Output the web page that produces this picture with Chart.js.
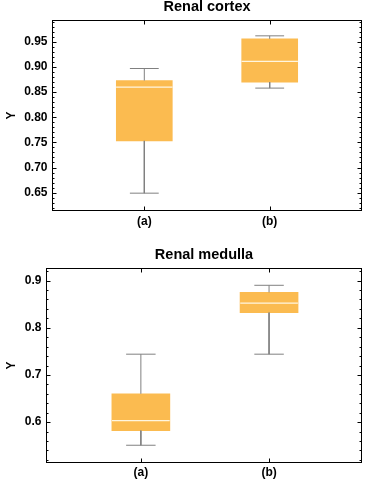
<!DOCTYPE html>
<html><head><meta charset="utf-8">
<script src="https://cdn.jsdelivr.net/npm/chart.js@4.4.1/dist/chart.umd.min.js"></script>
<style>
html,body{margin:0;padding:0;background:#fff;}
canvas{display:block;}
</style></head><body>
<canvas id="c1" width="369" height="240"></canvas>
<canvas id="c2" width="369" height="242"></canvas>
<script>
const categories = ['(a)', '(b)'];

const cortexMin    = [0.649, 0.858];
const cortexQ1     = [0.753, 0.870];
const cortexMedian = [0.860, 0.911];
const cortexQ3     = [0.873, 0.956];
const cortexMax    = [0.897, 0.962];
const cortexTicks      = [0.65, 0.70, 0.75, 0.80, 0.85, 0.90, 0.95];
const cortexTickLabels = ['0.65', '0.70', '0.75', '0.80', '0.85', '0.90', '0.95'];

const medullaMin    = [0.551, 0.744];
const medullaQ1     = [0.582, 0.832];
const medullaMedian = [0.603, 0.852];
const medullaQ3     = [0.660, 0.875];
const medullaMax    = [0.744, 0.890];
const medullaTicks      = [0.6, 0.7, 0.8, 0.9];
const medullaTickLabels = ['0.6', '0.7', '0.8', '0.9'];

const FONT = "'Liberation Sans', Arial, sans-serif";
const BOX_COLOR = '#FBBB50';
const WHISKER_COLOR = '#808080';

const framePlugin = {
  id: 'frame',
  afterDatasetsDraw(chart) {
    const {ctx, chartArea: a, scales: {x, y}} = chart;
    ctx.save();
    ctx.strokeStyle = '#000';
    ctx.lineWidth = 1;
    const L = Math.round(a.left) + 0.5, R = Math.round(a.right) - 0.5;
    const T = Math.round(a.top) + 0.5, B = Math.round(a.bottom) - 0.5;
    ctx.strokeRect(L, T, R - L, B - T);
    ctx.beginPath();
    y.ticks.forEach(t => {
      const py = Math.round(y.getPixelForValue(t.value)) + 0.5;
      const len = t.isMajor ? 4 : 2;
      ctx.moveTo(L, py); ctx.lineTo(L + len, py);
      ctx.moveTo(R, py); ctx.lineTo(R - len, py);
    });
    x.ticks.forEach(t => {
      const px = Math.round(x.getPixelForValue(t.value)) + 0.5;
      ctx.moveTo(px, B); ctx.lineTo(px, B - 4);
      ctx.moveTo(px, T); ctx.lineTo(px, T + 4);
    });
    ctx.stroke();
    ctx.restore();
  }
};

function makeChart(id, cfg) {
  const {title, mins, q1, med, q3, maxs, yMin, yMax, xMin, xMax, majors, majorLabels, minorStep,
         boxPx, yWidth, xHeight, titlePad} = cfg;
  const boxW = 0.45, capW = 0.23;
  const whisk = [], medians = [], boxes = [];
  categories.forEach((c, i) => {
    const x = i + 1;
    boxes.push({x, y: [q1[i], q3[i]]});
    whisk.push({x, y: q3[i]}, {x, y: maxs[i]}, {x, y: null},
      {x: x - capW / 2, y: maxs[i]}, {x: x + capW / 2, y: maxs[i]}, {x, y: null},
      {x, y: q1[i]}, {x, y: mins[i]}, {x, y: null},
      {x: x - capW / 2, y: mins[i]}, {x: x + capW / 2, y: mins[i]}, {x, y: null});
    medians.push({x: x - boxW / 2, y: med[i]}, {x: x + boxW / 2, y: med[i]}, {x, y: null});
  });

  return new Chart(document.getElementById(id), {
    type: 'bar',
    data: {
      datasets: [
        {type: 'bar', data: boxes, backgroundColor: BOX_COLOR, borderWidth: 0,
         barThickness: boxPx, order: 3},
        {type: 'line', data: whisk, borderColor: WHISKER_COLOR, borderWidth: 1,
         pointRadius: 0, spanGaps: false, fill: false, order: 2},
        {type: 'line', data: medians, borderColor: '#FFF6DF', borderWidth: 1.3,
         pointRadius: 0, spanGaps: false, fill: false, order: 1}
      ]
    },
    plugins: [framePlugin],
    options: {
      responsive: false,
      animation: false,
      events: [],
      layout: {padding: {left: 0, right: 7, top: 0, bottom: 0}},
      plugins: {
        legend: {display: false},
        tooltip: {enabled: false},
        title: {
          display: true, text: title, color: '#000', fullSize: false,
          font: {family: FONT, size: 14.5, weight: 'bold', lineHeight: 1},
          padding: titlePad
        }
      },
      scales: {
        x: {
          type: 'linear', min: xMin, max: xMax, offset: false,
          grid: {display: false, drawTicks: false, offset: false},
          border: {display: false},
          afterBuildTicks: s => { s.ticks = categories.map((c, i) => ({value: i + 1})); },
          afterFit: s => { s.height = xHeight; },
          ticks: {
            autoSkip: false, maxRotation: 0, padding: 3, color: '#000',
            font: {family: FONT, size: 12, weight: 'bold'},
            callback: (v, i) => categories[i]
          }
        },
        y: {
          type: 'linear', min: yMin, max: yMax,
          grid: {display: false, drawTicks: false},
          border: {display: false},
          afterBuildTicks: s => {
            const t = [];
            const k0 = Math.ceil(yMin / minorStep - 1e-9), k1 = Math.floor(yMax / minorStep + 1e-9);
            for (let k = k0; k <= k1; k++) {
              const v = Math.round(k * minorStep * 1000) / 1000;
              const idx = majors.findIndex(m => Math.abs(m - v) < 1e-6);
              t.push({value: v, isMajor: idx >= 0, lab: idx >= 0 ? majorLabels[idx] : ''});
            }
            s.ticks = t;
          },
          afterFit: s => { s.width = yWidth; },
          title: {
            display: true, text: 'Y', color: '#000',
            font: {family: FONT, size: 12, weight: 'bold'},
            padding: {top: 4.5, bottom: 0}
          },
          ticks: {
            autoSkip: false, padding: 4.5, color: '#000',
            font: {family: FONT, size: 12, weight: 'bold'},
            callback: function (v, i, ticks) { return ticks[i].lab; }
          }
        }
      }
    }
  });
}

makeChart('c1', {
  title: 'Renal cortex',
  mins: cortexMin, q1: cortexQ1, med: cortexMedian, q3: cortexQ3, maxs: cortexMax,
  yMin: 0.6135, yMax: 0.9935, xMin: 0.264, xMax: 2.736,
  majors: cortexTicks, majorLabels: cortexTickLabels, minorStep: 0.01,
  boxPx: 56, yWidth: 52, xHeight: 29, titlePad: {top: 0, bottom: 5.5}
});

makeChart('c2', {
  title: 'Renal medulla',
  mins: medullaMin, q1: medullaQ1, med: medullaMedian, q3: medullaQ3, maxs: medullaMax,
  yMin: 0.514, yMax: 0.926, xMin: 0.26, xMax: 2.725,
  majors: medullaTicks, majorLabels: medullaTickLabels, minorStep: 0.02,
  boxPx: 58, yWidth: 46, xHeight: 19.3, titlePad: {top: 7.75, bottom: 6.05}
});
</script>
</body></html>
